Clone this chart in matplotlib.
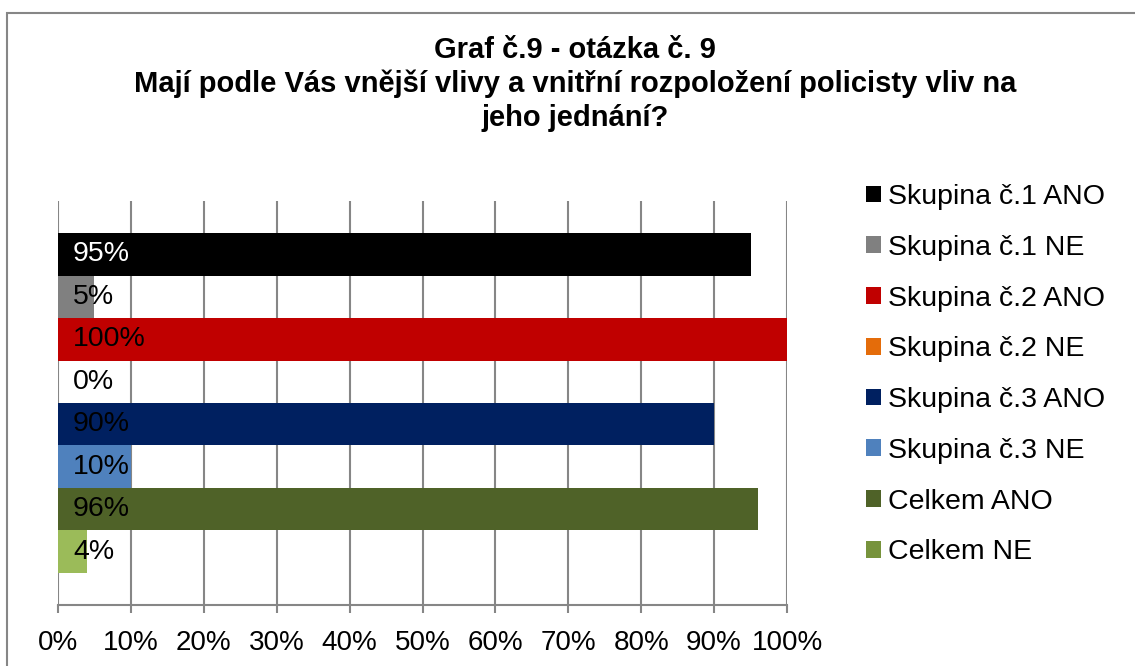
import matplotlib
matplotlib.use("Agg")
import matplotlib.pyplot as plt
from matplotlib.patches import Rectangle, Patch

plt.rcParams['font.family'] = ['Liberation Sans', 'DejaVu Sans']

series = ["Skupina č.1 ANO", "Skupina č.1 NE", "Skupina č.2 ANO", "Skupina č.2 NE",
          "Skupina č.3 ANO", "Skupina č.3 NE", "Celkem ANO", "Celkem NE"]
values = [95, 5, 100, 0, 90, 10, 96, 4]
bar_colors = ["#000000", "#808080", "#C00000", "#E46C0A",
              "#002060", "#4F81BD", "#4F6228", "#9BBB59"]
legend_colors = ["#000000", "#808080", "#C00000", "#E46C0A",
                 "#002060", "#4F81BD", "#4F6228", "#77933C"]
label_colors = ["white", "black", "black", "black", "black", "black", "black", "black"]
xticks = [0, 10, 20, 30, 40, 50, 60, 70, 80, 90, 100]
title = "Graf č.9 - otázka č. 9\nMají podle Vás vnější vlivy a vnitřní rozpoložení policisty vliv na\njeho jednání?"

W, H = 1135, 666
fig = plt.figure(figsize=(W / 100, H / 100), dpi=100)
fig.patch.set_facecolor("white")

# outer border
fig.patches.append(Rectangle((7 / W, -0.05), 1.2, 1 - 13 / H + 0.05, transform=fig.transFigure,
                             fill=False, edgecolor="#868686", linewidth=1.5))

ax = fig.add_axes([58 / W, 1 - 605 / H, (787 - 58) / W, (605 - 201) / H])
pos = list(range(len(values)))
ax.barh(pos, values, height=1.0, color=bar_colors, zorder=3)
pad = 0.753
ax.set_ylim(len(values) - 0.5 + pad, -0.5 - pad)
ax.set_xlim(0, 100)

for p, v, c in zip(pos, values, label_colors):
    ax.annotate(f"{v}%", xy=(0, p), xytext=(15, 0), textcoords="offset pixels",
                ha="left", va="center", fontsize=20.5, color=c, zorder=4)

ax.set_xticks(xticks)
ax.set_xticklabels([f"{t}%" for t in xticks], fontsize=20)
ax.set_yticks([])
ax.grid(axis="x", color="#868686", linewidth=1.5, zorder=0)
for s in ["top", "right", "left"]:
    ax.spines[s].set_visible(False)
ax.spines["bottom"].set_color("#868686")
ax.spines["bottom"].set_linewidth(1.5)
ax.tick_params(axis="x", length=6, width=1.5, color="#868686", pad=12)

fig.text(575 / W, 1 - 36 / H, title, ha="center", va="top", fontsize=21,
         fontweight="bold", linespacing=1.26)

handles = [Patch(facecolor=c, edgecolor="none") for c in legend_colors]
fig.legend(handles, series, loc="upper left", bbox_to_anchor=(866 / W, 1 - 184 / H),
           frameon=False, fontsize=20.5, handlelength=0.52, handleheight=0.52,
           handletextpad=0.25, labelspacing=0.87, borderpad=0, borderaxespad=0)

fig.savefig("out.png", dpi=100)
